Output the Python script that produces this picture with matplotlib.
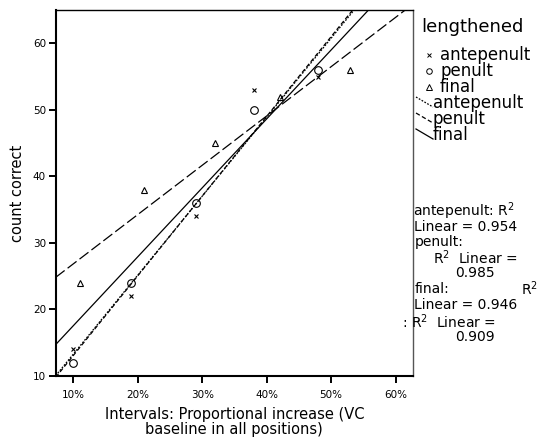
import matplotlib.pyplot as plt
import numpy as np
from matplotlib.lines import Line2D
from matplotlib.ticker import FuncFormatter

plt.rcParams['font.family'] = ['DejaVu Sans']

# values (x in percent)
groups = ['antepenult', 'penult', 'final']
x_ante = [10, 19, 29, 38, 48]
y_ante = [14, 22, 34, 53, 55]
x_pen = [10, 19, 29, 38, 48]
y_pen = [12, 24, 36, 50, 56]
x_fin = [11, 21, 32, 42, 53]
y_fin = [24, 38, 45, 52, 56]
x_ticks = [10, 20, 30, 40, 50, 60]
y_ticks = [10, 20, 30, 40, 50, 60]

markers = {'antepenult': 'x', 'penult': 'o', 'final': '^'}
msizes = {'antepenult': 3.5, 'penult': 5.5, 'final': 4.5}
dashes = {'antepenult': (0, (1.4, 1.2)), 'penult': (0, (3.5, 2)), 'final': (0, (9, 3))}

W, H = 545, 438
fig = plt.figure(figsize=(W / 100, H / 100), dpi=100)
ax = fig.add_axes([55.7 / W, 1 - 376 / H, (413 - 55.7) / W, (376 - 10) / H])
ax.set_zorder(1)
ax.set_facecolor('white')

xlo, xhi = 7.27, 62.7
ax.set_xlim(xlo, xhi)
ax.set_ylim(10, 65)


def fit(x, y):
    x = np.asarray(x, float)
    y = np.asarray(y, float)
    b, a = np.polyfit(x, y, 1)
    r2 = np.corrcoef(x, y)[0, 1] ** 2
    return a, b, r2


data = {'antepenult': (x_ante, y_ante), 'penult': (x_pen, y_pen), 'final': (x_fin, y_fin)}
xx = np.array([xlo, xhi])
r2s = {}
for g in groups:
    x, y = data[g]
    ax.plot(x, y, linestyle='none', marker=markers[g], ms=msizes[g],
            mfc='none', mec='black', mew=0.8, clip_on=False, zorder=3)
    a, b, r2 = fit(x, y)
    r2s[g] = r2
    ax.plot(xx, a + b * xx, color='black', lw=0.9, linestyle=dashes[g])

x_all = x_ante + x_pen + x_fin
y_all = y_ante + y_pen + y_fin
a, b, r2_total = fit(x_all, y_all)
ax.plot(xx, a + b * xx, color='black', lw=0.9)

ax.set_xticks(x_ticks)
ax.set_yticks(y_ticks)
ax.xaxis.set_major_formatter(FuncFormatter(lambda v, p: '%d%%' % v))
ax.tick_params(axis='both', direction='out', length=5, width=1.4, labelsize=7.5, pad=2)
ax.tick_params(axis='x', pad=5)
for s in ['left', 'bottom']:
    ax.spines[s].set_linewidth(1.5)
ax.spines['top'].set_linewidth(1.0)
ax.spines['right'].set_linewidth(1.0)
ax.spines['right'].set_color('#555555')

ax.set_xlabel('Intervals: Proportional increase (VC\nbaseline in all positions)',
              fontsize=10.5, linespacing=1.05, labelpad=5)
ax.set_ylabel('count correct', fontsize=10.5, labelpad=6)


def fx(px):
    return px / W


def fy(py):
    return 1 - py / H


# legend
lfs = 12
fig.text(fx(421), fy(27), 'lengthened', fontsize=13, va='center', ha='left')
rows_m = [55, 71, 87]
mk_legend = {'antepenult': 3, 'penult': 4, 'final': 4}
for g, ry in zip(groups, rows_m):
    fig.add_artist(Line2D([fx(429)], [fy(ry)], marker=markers[g], ms=mk_legend[g],
                          mfc='none', mec='black', mew=0.7, linestyle='none'))
    fig.text(fx(440), fy(ry), g, fontsize=lfs, va='center', ha='left')
rows_l = [103, 119, 135]
for g, ry in zip(groups, rows_l):
    ls = dashes[g] if g != 'final' else '-'
    fig.add_artist(Line2D([fx(416), fx(433)], [fy(ry - 6), fy(ry + 4)],
                          color='black', lw=0.9, linestyle=ls))
    fig.text(fx(433), fy(ry), g, fontsize=lfs, va='center', ha='left')

# R squared annotations
fs = 10
R2 = r'$\mathregular{R^2}$'
fig.text(fx(413), fy(211), 'antepenult: ' + R2, fontsize=fs, va='center', ha='left')
fig.text(fx(414), fy(227), 'Linear = %.3f' % r2s['antepenult'], fontsize=fs, va='center', ha='left')
fig.text(fx(415), fy(242), 'penult:', fontsize=fs, va='center', ha='left')
fig.text(fx(475), fy(258), R2 + '  Linear =', fontsize=fs, va='center', ha='center')
fig.text(fx(475), fy(273), '%.3f' % r2s['penult'], fontsize=fs, va='center', ha='center')
fig.text(fx(415), fy(289), 'final:', fontsize=fs, va='center', ha='left')
fig.text(fx(538), fy(289), R2, fontsize=fs, va='center', ha='right')
fig.text(fx(414), fy(305), 'Linear = %.3f' % r2s['final'], fontsize=fs, va='center', ha='left')
# "Total" sits behind the plot area, as in the original
fig.text(fx(402), fy(322), 'Total', fontsize=fs, va='center', ha='right', zorder=0)
fig.text(fx(402), fy(322), ': ' + R2 + '  Linear =', fontsize=fs, va='center', ha='left', zorder=3)
fig.text(fx(475), fy(337), '%.3f' % r2_total, fontsize=fs, va='center', ha='center')

fig.savefig('out.png', dpi=100)
